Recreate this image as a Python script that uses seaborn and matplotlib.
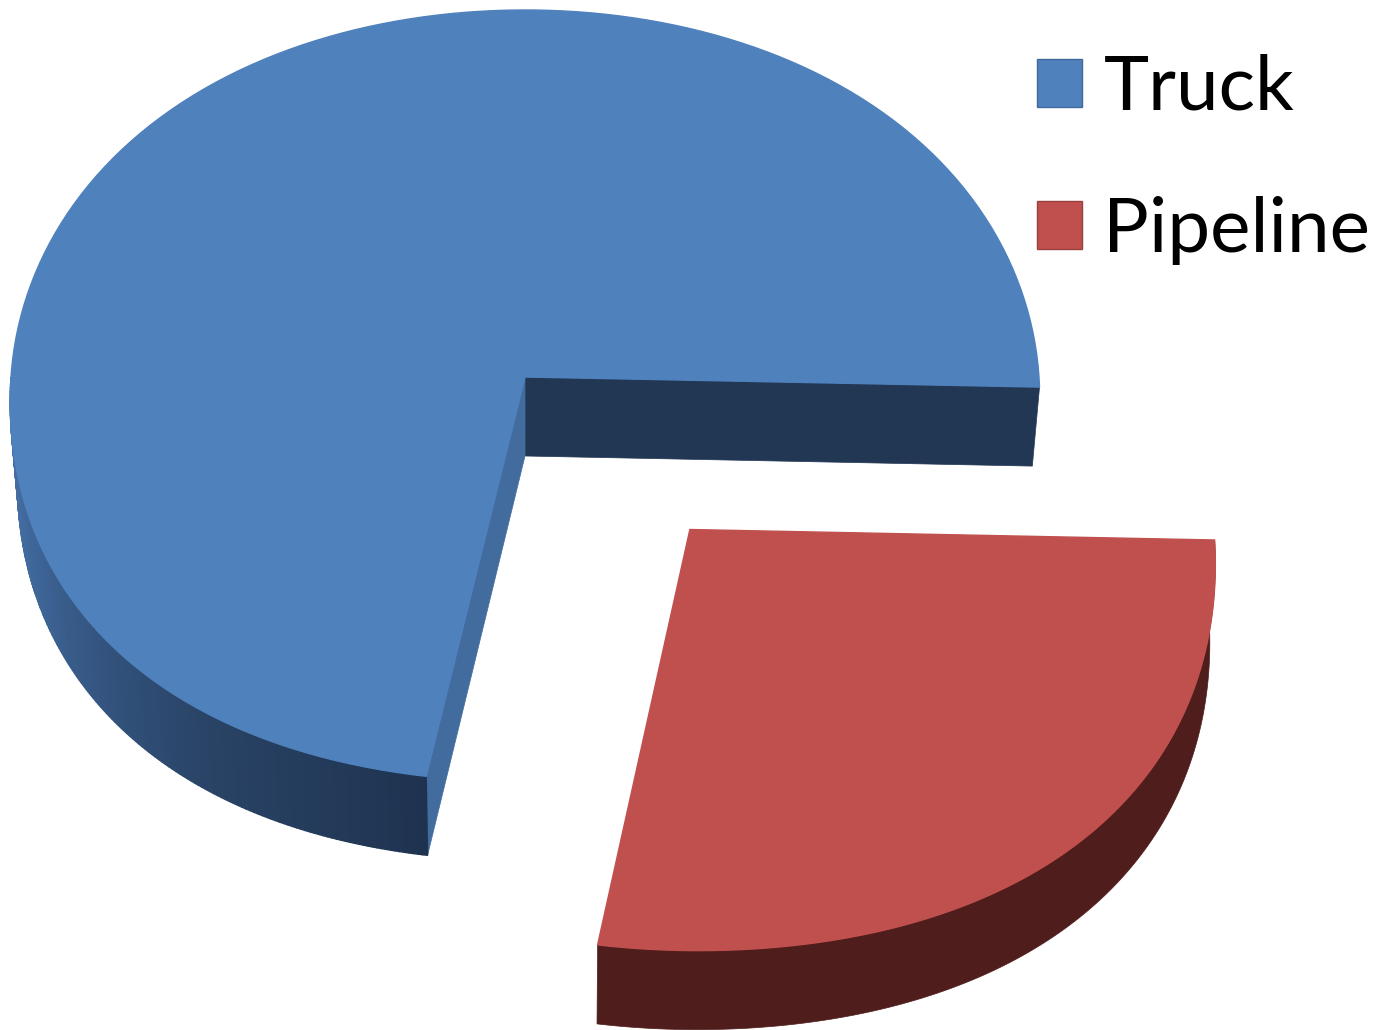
import numpy as np
import matplotlib
matplotlib.use("Agg")
import matplotlib.pyplot as plt
import seaborn as sns

# Share of transport
labels = ["Truck", "Pipeline"]
shares = [72.5, 27.5]
explode = [0, 0.5]

top_colors = ["#4F81BD", "#C0504D"]
edge_colors = ["#41689A", "#9A403E"]
face_colors = ["#223754", "#4E1D1C"]
cut_color = "#426B9E"

sns.set_theme(style="white")
plt.rcParams["font.family"] = ["Lato", "DejaVu Sans"]


# tilted view of the pie disc, z=1 is the bottom of the slab
def view(u, v, z=0, squeeze=0.014):
    w = 1 + 0.049 * v
    x = 525 + 514 * u / w * (1 - squeeze * z)
    y = 377 - 385 * v / w + 79 * z
    return x, y


def arc(wedge, a, b, z=0, squeeze=0.014):
    t = np.radians(np.linspace(a, b, 160))
    cx, cy = wedge.center
    # the rim in the original bulges a bit on the lower diagonals
    bulge = np.where(np.sin(t) < 0, 0.03, 0.012)
    r = wedge.r * (1 + bulge * np.sin(2 * t) ** 2)
    return view(cx + r * np.cos(t), cy + r * np.sin(t), z, squeeze)


fig, ax = plt.subplots(figsize=(13.83, 10.30), dpi=100)
fig.subplots_adjust(0, 0, 1, 1)

wedges, _ = ax.pie(shares, explode=explode, colors=top_colors, startangle=-1.5)

for wedge in wedges:
    wedge.set_visible(False)

truck, pipeline = wedges

# truck: inner cut faces
x0, y0 = view(*truck.center)
x1, y1 = view(*truck.center, 1)
xa, ya = arc(truck, truck.theta1, truck.theta1)
xb, yb = arc(truck, truck.theta1, truck.theta1, 1)
ax.fill([x0, xa[0], xb[0], x1], [y0, ya[0], yb[0], y1], color=face_colors[0], lw=0.5)
xa, ya = arc(truck, truck.theta2, truck.theta2)
xb, yb = arc(truck, truck.theta2, truck.theta2, 1)
ax.fill([x0, xa[0], xb[0], x1], [y0, ya[0], yb[0], y1], color=cut_color, lw=0.5)

# truck: outer wall, darker towards the cut
shades = sns.blend_palette(["#4B78B0", "#3C6293", "#2A4568", "#1F3350"], 159)
xa, ya = arc(truck, 180, truck.theta2)
xb, yb = arc(truck, 180, truck.theta2, 1)
for i in range(159):
    ax.fill([xa[i], xa[i + 1], xb[i + 1], xb[i]], [ya[i], ya[i + 1], yb[i + 1], yb[i]],
            color=shades[i], lw=1)

xt, yt = arc(truck, truck.theta1, truck.theta2)
ax.fill(np.r_[x0, xt], np.r_[y0, yt], color=top_colors[0], lw=1)

# pipeline: wall then top
xa, ya = arc(pipeline, pipeline.theta1, pipeline.theta2)
xb, yb = arc(pipeline, pipeline.theta1, pipeline.theta2, 1, squeeze=0.008)
ax.fill(np.r_[xa, xb[::-1]], np.r_[ya, yb[::-1]], color=face_colors[1], lw=0.5)
x2, y2 = view(*pipeline.center)
ax.fill(np.r_[x2, xa], np.r_[y2, ya], color=top_colors[1], lw=1)

ax.set_aspect("auto")
ax.set_xlim(0, 1383)
ax.set_ylim(1030, 0)
ax.axis("off")

handles = [plt.Rectangle((0, 0), 1, 1, facecolor=c, edgecolor=e, lw=1)
           for c, e in zip(top_colors, edge_colors)]
ax.legend(handles, labels, loc="upper left", bbox_to_anchor=(1037 / 1383, 1 - 54 / 1030),
          frameon=False, fontsize=55, handlelength=0.59, handleheight=0.59,
          handletextpad=0.28, labelspacing=0.95, borderpad=0, borderaxespad=0,
          labelcolor="black")

fig.savefig("out.png", dpi=100)
